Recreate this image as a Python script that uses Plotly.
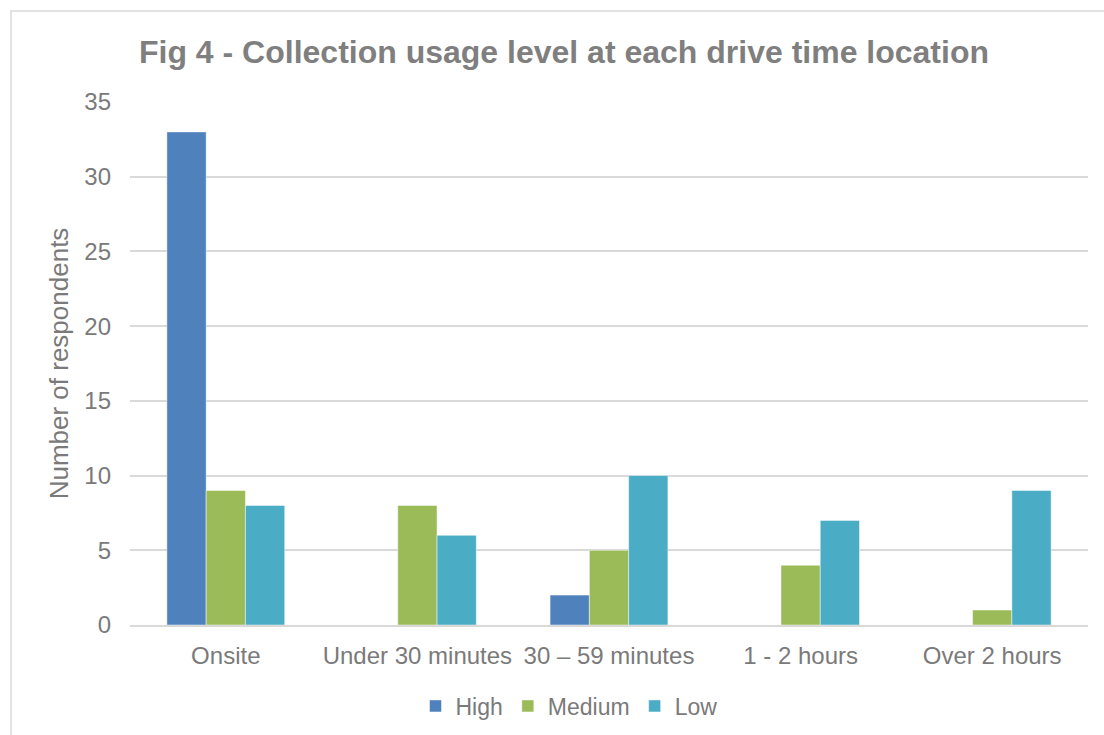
import plotly.graph_objects as go

categories = ["Onsite", "Under 30 minutes", "30 – 59 minutes", "1 - 2 hours", "Over 2 hours"]
high = [33, 0, 2, 0, 0]
medium = [9, 8, 5, 4, 1]
low = [8, 6, 10, 7, 9]

series = [("High", high, "#4F81BD"), ("Medium", medium, "#9BBB59"), ("Low", low, "#4BACC6")]

fig = go.Figure()
for name, vals, col in series:
    fig.add_trace(go.Bar(x=categories, y=vals, name=name, marker_color=col,
                         marker_line=dict(color="rgba(255,255,255,0.6)", width=0.8)))

W, H = 1104, 735
ml, mr, mt, mb = 130, 16, 102, 110
pw, ph = W - ml - mr, H - mt - mb
TXT = "#7A7A7A"

def px2x(px):
    return (px - ml) / pw

def py2y(py):
    return (H - mb - py) / ph

fig.update_layout(
    width=W, height=H,
    margin=dict(l=ml, r=mr, t=mt, b=mb, autoexpand=False),
    paper_bgcolor="white", plot_bgcolor="white",
    barmode="group", bargap=0.385, bargroupgap=0,
    font=dict(family="Liberation Sans, Arial, sans-serif", color=TXT, size=23),
    title=dict(text="<b>Fig 4 - Collection usage level at each drive time location</b>",
               xref="container", x=564 / W, xanchor="center", y=1 - 52 / H, yanchor="middle",
               font=dict(size=32, color="#7F7F7F")),
    xaxis=dict(showgrid=False, showline=True, linecolor="#D9D9D9", linewidth=1.5,
               automargin=False,
               ticks="", ticklabelstandoff=8, tickfont=dict(size=24, color=TXT)),
    yaxis=dict(range=[0, 35], dtick=5, showgrid=True, gridcolor="#D9D9D9", gridwidth=1.5,
               automargin=False,
               zeroline=False, showline=False, ticks="", ticklabelstandoff=18,
               tickfont=dict(size=24, color=TXT),
               title=dict(text="Number of respondents", font=dict(size=26, color=TXT), standoff=8)),
    legend=dict(orientation="h", x=px2x(569), xanchor="center", y=py2y(706), yanchor="middle",
                font=dict(size=23, color=TXT), itemwidth=30, traceorder="normal"),
    showlegend=True,
)

fig.add_shape(type="rect", xref="paper", yref="paper",
              x0=px2x(11), x1=px2x(1110), y0=py2y(745), y1=py2y(11),
              line=dict(color="#D9D9D9", width=1.5), fillcolor="rgba(0,0,0,0)", layer="below")

fig.write_html("out.html")
